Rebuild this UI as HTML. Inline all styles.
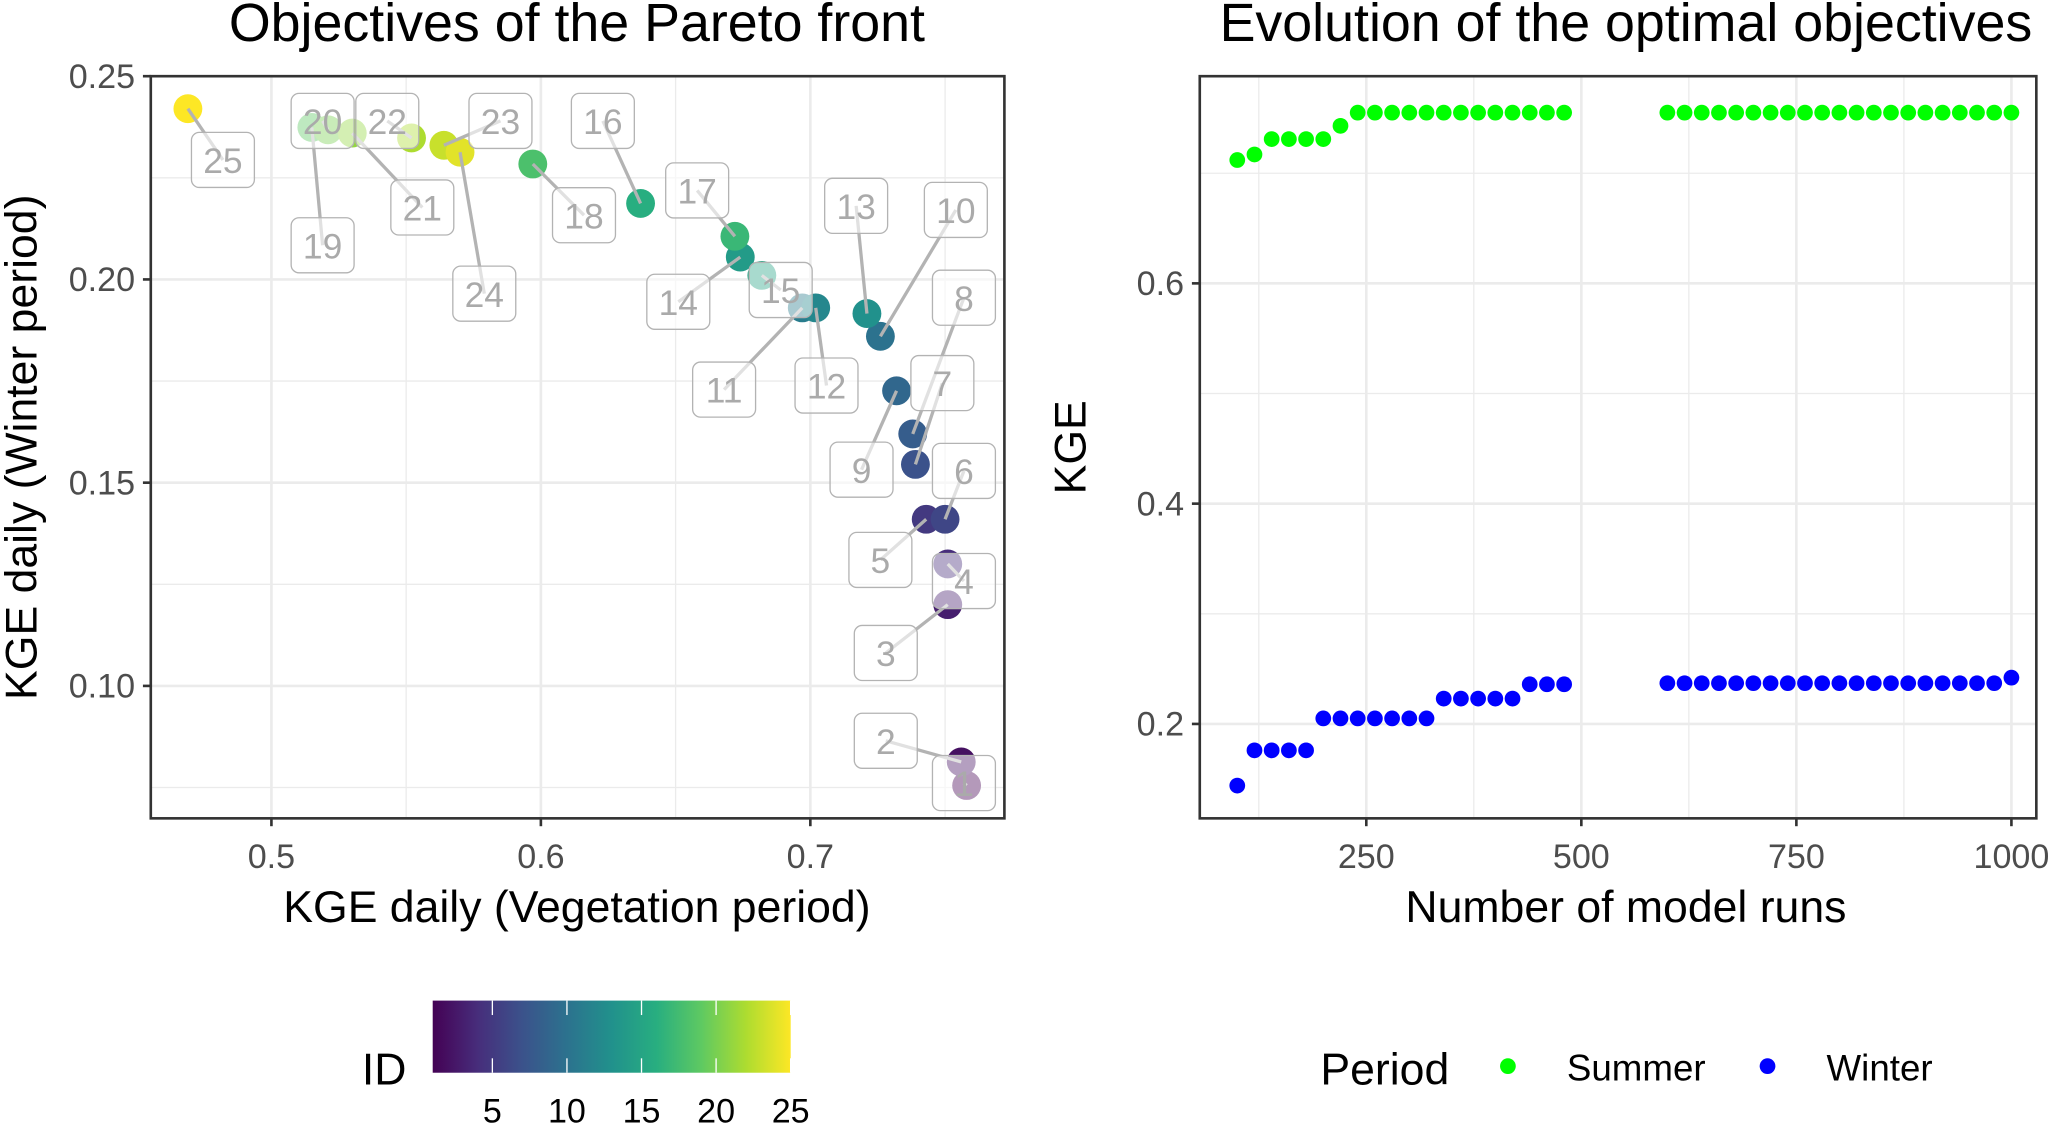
<!DOCTYPE html>
<html><head><meta charset="utf-8">
<style>
html,body{margin:0;padding:0;background:#fff;}
svg{display:block;font-family:"Liberation Sans",Arial,sans-serif;}
</style></head>
<body>
<svg id="chart" width="2056" height="1124" viewBox="0 0 1568 857" xmlns="http://www.w3.org/2000/svg">
<defs>
<linearGradient id="vir" x1="0" x2="1" y1="0" y2="0">
<stop offset="0" stop-color="#440154"/><stop offset="0.125" stop-color="#472d7b"/><stop offset="0.25" stop-color="#3b528b"/><stop offset="0.375" stop-color="#2c728e"/><stop offset="0.5" stop-color="#21918c"/><stop offset="0.625" stop-color="#28ae80"/><stop offset="0.75" stop-color="#5ec962"/><stop offset="0.875" stop-color="#addc30"/><stop offset="1" stop-color="#fde725"/>
</linearGradient>
</defs>
<text x="440" y="31" font-size="41" text-anchor="middle" fill="#000">Objectives of the Pareto front</text>
<text x="1240" y="31" font-size="41" text-anchor="middle" fill="#000">Evolution of the optimal objectives</text>
<g id="left"></g>
<g id="right"></g>
<text x="440" y="703" font-size="34" text-anchor="middle">KGE daily (Vegetation period)</text>
<text transform="translate(28,341) rotate(-90)" font-size="34" text-anchor="middle">KGE daily (Winter period)</text>
<text x="1240" y="703" font-size="34" text-anchor="middle">Number of model runs</text>
<text transform="translate(828,341) rotate(-90)" font-size="34" text-anchor="middle">KGE</text>
<g>
<text x="293" y="827" font-size="34" text-anchor="middle">ID</text>
<rect x="330" y="763" width="273" height="55" fill="url(#vir)"/>
<g id="cbticks"></g>
</g>
<g>
<text x="1007" y="827" font-size="34">Period</text>
<circle cx="1150" cy="813" r="6" fill="#00ff00"/>
<text x="1195" y="824" font-size="28">Summer</text>
<circle cx="1348" cy="813" r="6" fill="#0000ff"/>
<text x="1393" y="824" font-size="28">Winter</text>
</g>
</svg>
<script>
// Pareto data
const ids = [1,2,3,4,5,6,7,8,9,10,11,12,13,14,15,16,17,18,19,20,21,22,23,24,25];
const kgeVeg = [0.758,0.756,0.751,0.751,0.743,0.750,0.739,0.738,0.732,0.726,0.697,0.702,0.721,0.674,0.682,0.637,0.672,0.597,0.515,0.521,0.530,0.552,0.564,0.570,0.469];
const kgeWin = [0.0755,0.0813,0.120,0.130,0.141,0.141,0.1545,0.162,0.1726,0.186,0.193,0.193,0.1916,0.2055,0.201,0.2187,0.2106,0.2284,0.2374,0.2368,0.236,0.2348,0.233,0.2313,0.242];
const labelVeg = [0.757,0.728,0.728,0.757,0.726,0.757,0.749,0.757,0.719,0.754,0.668,0.706,0.717,0.651,0.689,0.623,0.658,0.616,0.519,0.519,0.556,0.543,0.585,0.579,0.482];
const labelWin = [0.0761,0.0865,0.1081,0.1258,0.1310,0.1529,0.1745,0.1955,0.1532,0.2171,0.1729,0.1739,0.2181,0.1945,0.1974,0.2390,0.2219,0.2158,0.2084,0.2390,0.2177,0.2390,0.2390,0.1965,0.2294];
const xTicksL = [0.5,0.6,0.7];
const yTicksL = [0.10,0.15,0.20,0.25];
// Evolution data
const runsA = [100,120,140,160,180,200,220,240,260,280,300,320,340,360,380,400,420,440,460,480];
const runsB = [600,620,640,660,680,700,720,740,760,780,800,820,840,860,880,900,920,940,960,980,1000];
const summerA = [0.712,0.717,0.731,0.731,0.731,0.731,0.743,0.755,0.755,0.755,0.755,0.755,0.755,0.755,0.755,0.755,0.755,0.755,0.755,0.755];
const winterA = [0.144,0.176,0.176,0.176,0.176,0.205,0.205,0.205,0.205,0.205,0.205,0.205,0.223,0.223,0.223,0.223,0.223,0.236,0.236,0.236];
const summerB = [0.755,0.755,0.755,0.755,0.755,0.755,0.755,0.755,0.755,0.755,0.755,0.755,0.755,0.755,0.755,0.755,0.755,0.755,0.755,0.755,0.755];
const winterB = [0.237,0.237,0.237,0.237,0.237,0.237,0.237,0.237,0.237,0.237,0.237,0.237,0.237,0.237,0.237,0.237,0.237,0.237,0.237,0.237,0.242];
const xTicksR = [250,500,750,1000];
const yTicksR = [0.2,0.4,0.6];
const cbTicks = [5,10,15,20,25];

const NS='http://www.w3.org/2000/svg';
function mk(tag,attrs,parent){const e=document.createElementNS(NS,tag);for(const k in attrs)e.setAttribute(k,attrs[k]);parent.appendChild(e);return e;}
const vir=[[68,1,84],[71,45,123],[59,82,139],[44,114,142],[33,145,140],[40,174,128],[94,201,98],[173,220,48],[253,231,37]];
function viridis(t){const s=t*8,i=Math.min(7,Math.floor(s)),f=s-i,a=vir[i],b=vir[i+1];return 'rgb('+a.map((v,k)=>Math.round(v+(b[k]-v)*f)).join(',')+')';}

// Left panel
const L={x0:115,x1:766,y0:58,y1:624};
const lx=v=>207+(v-0.5)*2055;
const ly=v=>58+(0.25-v)*3100;
const gL=document.getElementById('left');
mk('rect',{x:L.x0,y:L.y0,width:L.x1-L.x0,height:L.y1-L.y0,fill:'#fff'},gL);
[0.45,0.55,0.65,0.75].forEach(v=>{const x=lx(v);if(x>L.x0&&x<L.x1){const e=mk('line',{x1:x,x2:x,y1:L.y0,y2:L.y1,stroke:'#ebebeb','stroke-width':1},gL);}});
[0.075,0.125,0.175,0.225].forEach(v=>{const y=ly(v);const e=mk('line',{x1:L.x0,x2:L.x1,y1:y,y2:y,stroke:'#ebebeb','stroke-width':1},gL);});
xTicksL.forEach(v=>{const x=lx(v);
 const g=mk('line',{x1:x,x2:x,y1:L.y0,y2:L.y1,stroke:'#ebebeb','stroke-width':2},gL);
 const t=mk('line',{x1:x,x2:x,y1:L.y1,y2:L.y1+6,stroke:'#333','stroke-width':2},gL);
 const tx=mk('text',{x:x,y:L.y1+38,'font-size':26,'text-anchor':'middle',fill:'#4d4d4d'},gL);tx.textContent=v.toFixed(1);});
yTicksL.forEach(v=>{const y=ly(v);
 const g=mk('line',{x1:L.x0,x2:L.x1,y1:y,y2:y,stroke:'#ebebeb','stroke-width':2},gL);
 const t=mk('line',{x1:L.x0-6,x2:L.x0,y1:y,y2:y,stroke:'#333','stroke-width':2},gL);
 const tx=mk('text',{x:L.x0-12,y:y+9,'font-size':26,'text-anchor':'end',fill:'#4d4d4d'},gL);tx.textContent=v.toFixed(2);});
ids.forEach((id,i)=>{const c=mk('circle',{cx:lx(kgeVeg[i]),cy:ly(kgeWin[i]),r:11,fill:viridis((id-1)/24)},gL);
 
 });
ids.forEach((id,i)=>{const px=lx(kgeVeg[i]),py=ly(kgeWin[i]),bx=lx(labelVeg[i]),by=ly(labelWin[i]);
 const s=mk('line',{x1:px,y1:py,x2:bx,y2:by,stroke:'#b3b3b3','stroke-width':2.5},gL);
 
 });
ids.forEach((id,i)=>{const bx=lx(labelVeg[i]),by=ly(labelWin[i]);
 const r=mk('rect',{x:bx-24,y:by-21,width:48,height:42,rx:6,fill:'#fff','fill-opacity':0.6,stroke:'#b3b3b3','stroke-width':1},gL);
 
 
 const t=mk('text',{x:bx,y:by+10,'font-size':27,'text-anchor':'middle',fill:'#aaaaaa'},gL);t.textContent=String(id);
 
 });
mk('rect',{x:L.x0,y:L.y0,width:L.x1-L.x0,height:L.y1-L.y0,fill:'none',stroke:'#333','stroke-width':2},gL);

// Right panel
const R={x0:915,x1:1553,y0:58,y1:624};
const rx=v=>1042+(v-250)*0.656;
const ry=v=>552-(v-0.2)*840;
const gR=document.getElementById('right');
[125,375,625,875].forEach(v=>{const x=rx(v);const e=mk('line',{x1:x,x2:x,y1:R.y0,y2:R.y1,stroke:'#ebebeb','stroke-width':1},gR);});
[0.3,0.5,0.7].forEach(v=>{const y=ry(v);const e=mk('line',{x1:R.x0,x2:R.x1,y1:y,y2:y,stroke:'#ebebeb','stroke-width':1},gR);});
{const y=ry(0.1);if(y<R.y1){const e=mk('line',{x1:R.x0,x2:R.x1,y1:y,y2:y,stroke:'#ebebeb','stroke-width':1},gR);}}
xTicksR.forEach(v=>{const x=rx(v);
 const g=mk('line',{x1:x,x2:x,y1:R.y0,y2:R.y1,stroke:'#ebebeb','stroke-width':2},gR);
 const t=mk('line',{x1:x,x2:x,y1:R.y1,y2:R.y1+6,stroke:'#333','stroke-width':2},gR);
 const tx=mk('text',{x:x,y:R.y1+38,'font-size':26,'text-anchor':'middle',fill:'#4d4d4d'},gR);tx.textContent=String(v);});
yTicksR.forEach(v=>{const y=ry(v);
 const g=mk('line',{x1:R.x0,x2:R.x1,y1:y,y2:y,stroke:'#ebebeb','stroke-width':2},gR);
 const t=mk('line',{x1:R.x0-6,x2:R.x0,y1:y,y2:y,stroke:'#333','stroke-width':2},gR);
 const tx=mk('text',{x:R.x0-12,y:y+9,'font-size':26,'text-anchor':'end',fill:'#4d4d4d'},gR);tx.textContent=v.toFixed(1);});
function series(runs,vals,color,name){runs.forEach((r,i)=>{const c=mk('circle',{cx:rx(r),cy:ry(vals[i]),r:6,fill:color},gR);
 
 });}
series(runsA,summerA,'#00ff00','summer');series(runsB,summerB,'#00ff00','summer');
series(runsA,winterA,'#0000ff','winter');series(runsB,winterB,'#0000ff','winter');
mk('rect',{x:R.x0,y:R.y0,width:R.x1-R.x0,height:R.y1-R.y0,fill:'none',stroke:'#333','stroke-width':2},gR);

// Colorbar ticks
const gC=document.getElementById('cbticks');
cbTicks.forEach(v=>{const x=330+(v-1)*(273/24);
 const a=mk('line',{x1:x,x2:x,y1:763,y2:774,stroke:'#fff','stroke-width':1},gC);
 const b=mk('line',{x1:x,x2:x,y1:807,y2:818,stroke:'#fff','stroke-width':1},gC);
 const t=mk('text',{x:x,y:856,'font-size':26,'text-anchor':'middle',fill:'#000'},gC);t.textContent=String(v);});
</script>
</body></html>
